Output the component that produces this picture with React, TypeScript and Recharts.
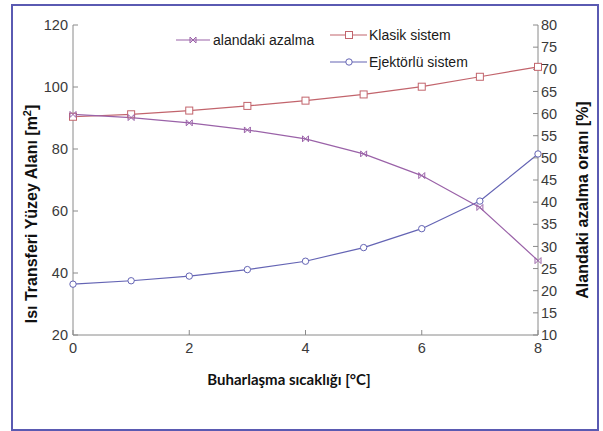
import { LineChart, Line, XAxis, YAxis } from 'recharts'

const temps = [0, 1, 2, 3, 4, 5, 6, 7, 8]
const klasik = [90.4, 91.2, 92.4, 93.9, 95.6, 97.6, 100.1, 103.3, 106.5]
const ejektorlu = [36.4, 37.5, 39.0, 41.1, 43.8, 48.2, 54.3, 63.2, 78.4]
const azalma = [59.8, 59.1, 57.9, 56.3, 54.3, 50.9, 46.0, 38.8, 26.8]

const xTicks = [0, 2, 4, 6, 8]
const xMinorTicks = [0, 0.4, 0.8, 1.2, 1.6, 2, 2.4, 2.8, 3.2, 3.6, 4, 4.4, 4.8, 5.2, 5.6, 6, 6.4, 6.8, 7.2, 7.6, 8]
const leftTicks = [20, 40, 60, 80, 100, 120]
const leftMinorTicks = [24, 28, 32, 36, 44, 48, 52, 56, 64, 68, 72, 76, 84, 88, 92, 96, 104, 108, 112, 116]
const rightTicks = [10, 15, 20, 25, 30, 35, 40, 45, 50, 55, 60, 65, 70, 75, 80]
const rightMinorTicks = [12.5, 17.5, 22.5, 27.5, 32.5, 37.5, 42.5, 47.5, 52.5, 57.5, 62.5, 67.5, 72.5, 77.5]

const data = temps.map((t, i) => ({ t, klasik: klasik[i], ejektorlu: ejektorlu[i], azalma: azalma[i] }))

const RED = '#c2646c'
const BLUE = '#6464b4'
const PURPLE = '#9a62a8'
const AXIS = '#8a8a8a'
const FONT = '"Liberation Sans", Arial, sans-serif'
const tickStyle = { fontSize: 14.5, fill: '#3a3a3a', fontFamily: FONT }

const noLabel = () => <g />

function Square(p: any) {
  if (p.cx == null) return <g key={p.key} />
  return <rect key={p.key} x={p.cx - 3.5} y={p.cy - 3.5} width={7} height={7} fill="#fff" stroke={RED} strokeWidth={1} />
}
function Circle(p: any) {
  if (p.cx == null) return <g key={p.key} />
  return <circle key={p.key} cx={p.cx} cy={p.cy} r={3.2} fill="#fff" stroke={BLUE} strokeWidth={1} />
}
function Bowtie(p: any) {
  if (p.cx == null) return <g key={p.key} />
  const { cx, cy } = p
  return (
    <path key={p.key} d={`M${cx - 3},${cy - 3}L${cx + 3},${cy + 3}L${cx + 3},${cy - 3}L${cx - 3},${cy + 3}Z`}
      fill="none" stroke={PURPLE} strokeWidth={1} />
  )
}

export default function App() {
  return (
    <div style={{ position: 'absolute', left: 0, top: 0, width: 603, height: 431, background: '#fff' }}>
      <div style={{ position: 'absolute', left: 11, top: 4, width: 588, height: 427, boxSizing: 'border-box', border: '2px solid #5a5ab2' }} />
      <LineChart width={603} height={431} data={data} margin={{ top: 25, right: 0, bottom: 66, left: 0 }}>
        <XAxis xAxisId="main" dataKey="t" type="number" domain={[0, 8]} ticks={xTicks} height={30}
          stroke={AXIS} tick={tickStyle} tickSize={-5} tickMargin={13} interval={0} />
        <XAxis xAxisId="minor" dataKey="t" type="number" domain={[0, 8]} ticks={xMinorTicks} height={0}
          stroke={AXIS} axisLine={false} tick={noLabel} tickSize={-3} interval={0} />
        <XAxis xAxisId="top" orientation="top" dataKey="t" type="number" domain={[0, 8]} ticks={xMinorTicks} height={0}
          stroke={AXIS} tick={noLabel} tickSize={-3} interval={0} />
        <YAxis yAxisId="left" type="number" domain={[20, 120]} ticks={leftTicks} width={73}
          stroke={AXIS} tick={tickStyle} tickSize={-5} tickMargin={10} interval={0} />
        <YAxis yAxisId="leftMinor" type="number" domain={[20, 120]} ticks={leftMinorTicks} width={0}
          stroke={AXIS} axisLine={false} tick={noLabel} tickSize={-3} interval={0} />
        <YAxis yAxisId="right" orientation="right" type="number" domain={[10, 80]} ticks={rightTicks} width={65}
          stroke={AXIS} tick={{ ...tickStyle, textAnchor: 'start' }} tickSize={-5} tickMargin={8} interval={0} />
        <YAxis yAxisId="rightMinor" orientation="right" type="number" domain={[10, 80]} ticks={rightMinorTicks} width={0}
          stroke={AXIS} axisLine={false} tick={noLabel} tickSize={-3} interval={0} />
        <Line xAxisId="main" yAxisId="left" dataKey="klasik" stroke={RED} strokeWidth={1.2} dot={Square} isAnimationActive={false} />
        <Line xAxisId="main" yAxisId="left" dataKey="ejektorlu" stroke={BLUE} strokeWidth={1.2} dot={Circle} isAnimationActive={false} />
        <Line xAxisId="main" yAxisId="right" dataKey="azalma" stroke={PURPLE} strokeWidth={1.2} dot={Bowtie} isAnimationActive={false} />
      </LineChart>
      <svg width={603} height={431} style={{ position: 'absolute', left: 0, top: 0, pointerEvents: 'none' }}>
        <g fontFamily={FONT} fontSize={14} fill="#1a1a1a">
          <line x1={176} x2={210} y1={40} y2={40} stroke={PURPLE} strokeWidth={1.2} />
          <Bowtie cx={193} cy={40} key="l1" />
          <text x={213} y={45}>alandaki azalma</text>
          <line x1={330} x2={367} y1={35} y2={35} stroke={RED} strokeWidth={1.2} />
          <Square cx={349} cy={35} key="l2" />
          <text x={369} y={40}>Klasik sistem</text>
          <line x1={330} x2={367} y1={62} y2={62} stroke={BLUE} strokeWidth={1.2} />
          <Circle cx={349} cy={62} key="l3" />
          <text x={369} y={67}>Ejektörlü sistem</text>
        </g>
        <text transform="translate(37,214) rotate(-90)" textAnchor="middle" fontFamily={FONT} fontWeight="bold" fontSize={16} fill="#111">
          Isı Transferi Yüzey Alanı [m<tspan dy={-6} fontSize={11}>2</tspan><tspan dy={6}>]</tspan>
        </text>
        <text transform="translate(588,200) rotate(-90)" textAnchor="middle" fontFamily={FONT} fontWeight="bold" fontSize={16} fill="#111">
          Alandaki azalma oranı [%]
        </text>
        <text x={289} y={385} textAnchor="middle" fontFamily="Lato, sans-serif" fontWeight="bold" fontSize={15} fill="#111">
          Buharlaşma sıcaklığı [°C]
        </text>
      </svg>
    </div>
  )
}
